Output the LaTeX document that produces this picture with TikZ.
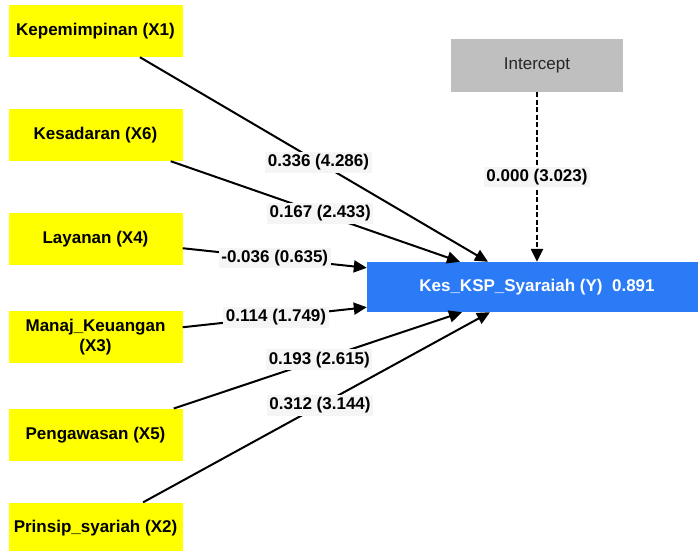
\documentclass[tikz,border=0pt]{standalone}
\usepackage{fontspec}
\setmainfont{Liberation Sans}
\usetikzlibrary{arrows.meta}
\definecolor{ybox}{RGB}{255,255,0}
\definecolor{ytarget}{RGB}{44,123,246}
\definecolor{icptgray}{RGB}{191,191,191}

\begin{document}
\begin{tikzpicture}[x=1pt,y=-1pt,
  latent/.style={fill=ybox,minimum width=174pt,minimum height=52pt,align=center,
    font=\fontsize{17}{20}\selectfont\bfseries},
  endog/.style={fill=ytarget,text=white,minimum width=340pt,minimum height=50pt,
    font=\fontsize{17}{20}\selectfont\bfseries},
  const/.style={fill=icptgray,text=black!85,minimum width=172pt,minimum height=53pt,
    font=\fontsize{17}{20}\selectfont},
  effect/.style={line width=2pt,-{Triangle[length=13pt,width=12pt]}},
  coef/.style={fill=black!4,inner sep=2.5pt,font=\fontsize{17}{20}\selectfont\bfseries}]
  \useasboundingbox (0,0) rectangle (698,550);

  \node[latent] (x1) at (95.5,31) {Kepemimpinan (X1)};
  \node[latent] (x6) at (95.5,135) {Kesadaran (X6)};
  \node[latent] (x4) at (95.5,239) {Layanan (X4)};
  \node[latent] (x3) at (95.5,336.7) {Manaj\_Keuangan\\(X3)};
  \node[latent] (x5) at (95.5,434.7) {Pengawasan (X5)};
  \node[latent] (x2) at (95.5,528.5) {Prinsip\_syariah (X2)};

  \node[endog] (y) at (537,287) {Kes\_KSP\_Syaraiah (Y)\ \ 0.891};
  \node[const] (icpt) at (537,65.5) {Intercept};

  \coordinate (t1) at ([xshift=-49pt]y.north);
  \coordinate (t6) at ([xshift=-77pt]y.north);
  \coordinate (t4) at ([yshift=-6pt]y.north west);
  \coordinate (t3) at ([yshift=5pt]y.south west);
  \coordinate (t5) at ([xshift=-75pt]y.south);
  \coordinate (t2) at ([xshift=-47pt]y.south);

  \draw [effect] (x1) -- (t1) node[coef,pos=.513] {0.336 (4.286)};
  \draw [effect] (x6) -- (t6) node[coef,pos=.517] {0.167 (2.433)};
  \draw [effect] (x4) -- (t4) node[coef,pos=.5] {-0.036 (0.635)};
  \draw [effect] (x3) -- (t3) node[coef,pos=.507] {0.114 (1.749)};
  \draw [effect] (x5) -- (t5) node[coef,pos=.505] {0.193 (2.615)};
  \draw [effect] (x2) -- (t2) node[coef,pos=.51] {0.312 (3.144)};
  % intercept path
  \draw [effect,line width=2.4pt,dash pattern=on 5pt off 2.5pt] (icpt) -- (y) node[coef,pos=.5] {0.000 (3.023)};
\end{tikzpicture}
\end{document}
